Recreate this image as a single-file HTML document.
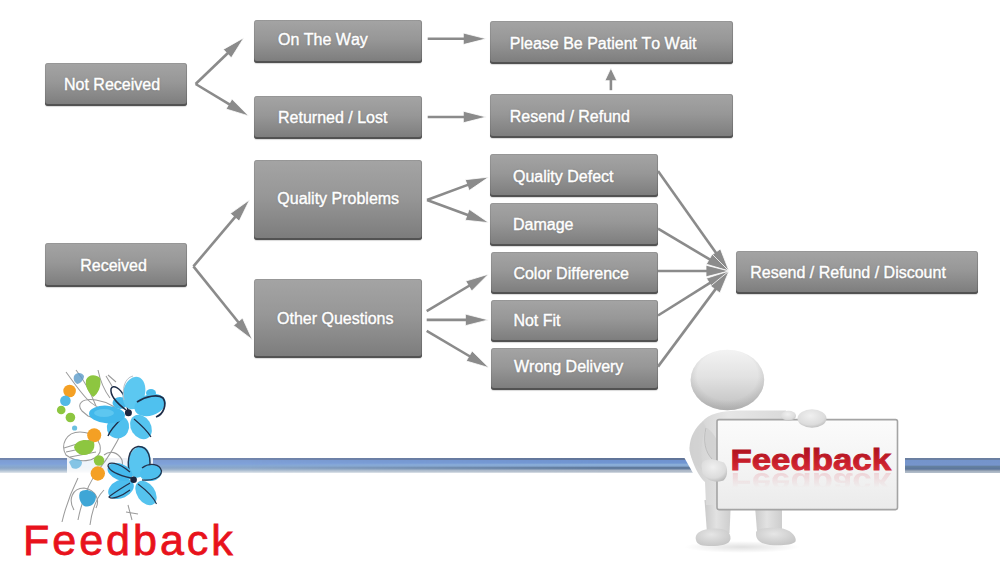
<!DOCTYPE html><html><head><meta charset="utf-8"><style>
html,body{margin:0;padding:0;background:#fff;}
body{width:1000px;height:570px;position:relative;overflow:hidden;font-family:"Liberation Sans",sans-serif;}
.b{position:absolute;border-radius:3px;background:linear-gradient(#a4a4a4 0%,#979797 45%,#838383 85%,#7b7b7b 100%);box-shadow:inset 0 -2px 0 #525252,inset -1px 0 0 rgba(0,0,0,0.14),inset 1px 0 0 rgba(0,0,0,0.08),inset 0 1px 0 rgba(0,0,0,0.08),0 1px 1px rgba(0,0,0,0.15);}
.t{position:absolute;color:#fff;font-size:16px;line-height:16px;white-space:nowrap;font-kerning:none;-webkit-text-stroke:0.4px #fff;text-shadow:0 0 2px rgba(60,60,60,0.35);}
svg{position:absolute;left:0;top:0;}
</style></head><body>

<div class="b" style="left:45.0px;top:62.5px;width:142.0px;height:43.0px"></div>
<div class="t" style="left:64.0px;top:76.7px">Not Received</div>
<div class="b" style="left:254.0px;top:20.3px;width:167.5px;height:42.5px"></div>
<div class="t" style="left:278.0px;top:32.1px">On The Way</div>
<div class="b" style="left:254.0px;top:96.0px;width:167.5px;height:42.6px"></div>
<div class="t" style="left:278.0px;top:110.0px">Returned / Lost</div>
<div class="b" style="left:254.0px;top:160.4px;width:167.5px;height:79.2px"></div>
<div class="t" style="left:277.3px;top:190.5px">Quality Problems</div>
<div class="b" style="left:44.5px;top:243.3px;width:142.5px;height:43.3px"></div>
<div class="t" style="left:80.2px;top:257.7px">Received</div>
<div class="b" style="left:254.0px;top:278.6px;width:167.5px;height:79.9px"></div>
<div class="t" style="left:277.0px;top:311.0px">Other Questions</div>
<div class="b" style="left:490.3px;top:20.9px;width:242.7px;height:43.6px"></div>
<div class="t" style="left:509.8px;top:36.1px">Please Be Patient To Wait</div>
<div class="b" style="left:490.3px;top:94.4px;width:242.7px;height:43.6px"></div>
<div class="t" style="left:509.8px;top:109.4px">Resend / Refund</div>
<div class="b" style="left:490.4px;top:154.0px;width:167.6px;height:43.4px"></div>
<div class="t" style="left:513.0px;top:168.9px">Quality Defect</div>
<div class="b" style="left:490.4px;top:203.0px;width:167.6px;height:43.0px"></div>
<div class="t" style="left:513.0px;top:216.5px">Damage</div>
<div class="b" style="left:490.5px;top:252.1px;width:167.9px;height:42.4px"></div>
<div class="t" style="left:513.4px;top:266.2px">Color Difference</div>
<div class="b" style="left:490.5px;top:299.7px;width:167.9px;height:42.7px"></div>
<div class="t" style="left:513.4px;top:312.5px">Not Fit</div>
<div class="b" style="left:490.5px;top:348.4px;width:167.9px;height:42.1px"></div>
<div class="t" style="left:514.0px;top:359.1px">Wrong Delivery</div>
<div class="b" style="left:736.0px;top:251.0px;width:242.0px;height:43.0px"></div>
<div class="t" style="left:750.2px;top:265.0px">Resend / Refund / Discount</div>
<svg width="1000" height="570" viewBox="0 0 1000 570">
<polygon points="243.9,37.7 231.3,57.8 223.3,49.4" fill="#8b8b8b" stroke="#fff" stroke-width="0.8" stroke-linejoin="miter"/><line x1="195.6" y1="84.0" x2="228.7" y2="52.2" stroke="#8b8b8b" stroke-width="2.6"/>
<polygon points="248.7,115.9 226.0,109.0 232.0,99.1" fill="#8b8b8b" stroke="#fff" stroke-width="0.8" stroke-linejoin="miter"/><line x1="195.6" y1="84.0" x2="230.7" y2="105.1" stroke="#8b8b8b" stroke-width="2.6"/>
<polygon points="249.6,199.8 239.2,221.1 230.3,213.6" fill="#8b8b8b" stroke="#fff" stroke-width="0.8" stroke-linejoin="miter"/><line x1="193.4" y1="266.4" x2="236.1" y2="215.8" stroke="#8b8b8b" stroke-width="2.6"/>
<polygon points="252.4,339.7 233.5,325.4 242.5,318.1" fill="#8b8b8b" stroke="#fff" stroke-width="0.8" stroke-linejoin="miter"/><line x1="193.4" y1="266.4" x2="239.2" y2="323.3" stroke="#8b8b8b" stroke-width="2.6"/>
<polygon points="486.3,38.8 463.3,44.6 463.3,33.0" fill="#8b8b8b" stroke="#fff" stroke-width="0.8" stroke-linejoin="miter"/><line x1="427.7" y1="38.8" x2="465.3" y2="38.8" stroke="#8b8b8b" stroke-width="2.6"/>
<polygon points="486.3,117.0 463.3,122.8 463.3,111.2" fill="#8b8b8b" stroke="#fff" stroke-width="0.8" stroke-linejoin="miter"/><line x1="427.7" y1="117.0" x2="465.3" y2="117.0" stroke="#8b8b8b" stroke-width="2.6"/>
<polygon points="610.9,68.1 616.9,80.7 604.9,80.7" fill="#8b8b8b" stroke="#fff" stroke-width="0.8" stroke-linejoin="miter"/><line x1="610.9" y1="90.2" x2="610.9" y2="78.7" stroke="#8b8b8b" stroke-width="2.6"/>
<polygon points="488.8,177.1 469.2,190.5 465.2,179.7" fill="#8b8b8b" stroke="#fff" stroke-width="0.8" stroke-linejoin="miter"/><line x1="427.0" y1="200.0" x2="469.1" y2="184.4" stroke="#8b8b8b" stroke-width="2.6"/>
<polygon points="488.8,222.7 465.2,220.2 469.2,209.3" fill="#8b8b8b" stroke="#fff" stroke-width="0.8" stroke-linejoin="miter"/><line x1="427.0" y1="200.0" x2="469.1" y2="215.5" stroke="#8b8b8b" stroke-width="2.6"/>
<polygon points="488.4,274.2 471.7,291.0 465.7,281.1" fill="#8b8b8b" stroke="#fff" stroke-width="0.8" stroke-linejoin="miter"/><line x1="426.7" y1="311.2" x2="470.4" y2="285.0" stroke="#8b8b8b" stroke-width="2.6"/>
<polygon points="488.4,319.9 465.4,325.7 465.4,314.1" fill="#8b8b8b" stroke="#fff" stroke-width="0.8" stroke-linejoin="miter"/><line x1="426.7" y1="319.9" x2="467.4" y2="319.9" stroke="#8b8b8b" stroke-width="2.6"/>
<polygon points="489.0,367.7 466.2,361.0 472.1,351.0" fill="#8b8b8b" stroke="#fff" stroke-width="0.8" stroke-linejoin="miter"/><line x1="426.7" y1="330.9" x2="470.9" y2="357.0" stroke="#8b8b8b" stroke-width="2.6"/>
<polygon points="729.0,271.0 711.0,255.6 720.4,248.9" fill="#8b8b8b" stroke="#fff" stroke-width="0.8" stroke-linejoin="miter"/><line x1="658.0" y1="171.0" x2="716.8" y2="253.9" stroke="#8b8b8b" stroke-width="2.6"/>
<polygon points="729.0,271.0 706.3,264.2 712.2,254.2" fill="#8b8b8b" stroke="#fff" stroke-width="0.8" stroke-linejoin="miter"/><line x1="658.0" y1="228.6" x2="711.0" y2="260.2" stroke="#8b8b8b" stroke-width="2.6"/>
<polygon points="729.0,271.0 706.0,276.8 706.0,265.2" fill="#8b8b8b" stroke="#fff" stroke-width="0.8" stroke-linejoin="miter"/><line x1="658.0" y1="271.0" x2="708.0" y2="271.0" stroke="#8b8b8b" stroke-width="2.6"/>
<polygon points="729.0,271.0 712.6,288.1 706.4,278.3" fill="#8b8b8b" stroke="#fff" stroke-width="0.8" stroke-linejoin="miter"/><line x1="658.0" y1="315.5" x2="711.2" y2="282.2" stroke="#8b8b8b" stroke-width="2.6"/>
<polygon points="729.0,271.0 719.9,292.9 710.6,286.0" fill="#8b8b8b" stroke="#fff" stroke-width="0.8" stroke-linejoin="miter"/><line x1="658.0" y1="366.6" x2="716.5" y2="287.9" stroke="#8b8b8b" stroke-width="2.6"/>
</svg>
<div style="position:absolute;left:0;top:457.5px;width:1000px;height:15.5px;background:linear-gradient(#7084ab 0px,#7286ae 1.5px,#7d9dd3 2.5px,#80a2da 6px,#86a8d4 7.5px,#8aa6c8 10px,#9db4cd 11.5px,#b7c6d6 13px,#d8e0e8 14.5px,#fff 15.5px);"></div>
<div style="position:absolute;left:0;top:457.5px;width:1000px;height:15.5px;background:linear-gradient(#5f7398 0px,#617599 1.5px,#6f93d0 2.5px,#7096d2 5px,#8aaed8 6.5px,#88aad4 8px,#5f7a9c 9.5px,#627c9e 11px,#aab5c5 12px,#b4bfcc 14px,#fff 15.5px);-webkit-mask-image:linear-gradient(to right,transparent 250px,#000 600px,#000 700px,transparent 905px);"></div>
<div style="position:absolute;left:0;top:457.5px;width:1000px;height:15.5px;background:linear-gradient(#6a7e9f 0px,#6b80a3 1.5px,#7494cb 2.5px,#7695cc 7px,#64809f 8.5px,#5c769c 11px,#8f9db0 12.5px,#a7b3c2 13.5px,#b5bfcb 15px,#fff 15.5px);-webkit-mask-image:linear-gradient(to right,transparent 700px,#000 905px);"></div>
<svg width="1000" height="570" viewBox="0 0 1000 570" style="position:absolute;left:0;top:0">
<defs>
<linearGradient id="head" x1="0" y1="0" x2="0" y2="1"><stop offset="0" stop-color="#f3f3f3"/><stop offset="0.45" stop-color="#e2e2e2"/><stop offset="0.85" stop-color="#c9c9c9"/><stop offset="1" stop-color="#b9b9b9"/></linearGradient><radialGradient id="heade" cx="0.5" cy="0.42" r="0.55"><stop offset="0.75" stop-color="#999" stop-opacity="0"/><stop offset="1" stop-color="#999" stop-opacity="0.35"/></radialGradient>
<linearGradient id="body" x1="0" y1="0" x2="1" y2="0"><stop offset="0" stop-color="#cfcfcf"/><stop offset="0.4" stop-color="#e6e6e6"/><stop offset="1" stop-color="#dadada"/></linearGradient>
<linearGradient id="leg" x1="0" y1="0" x2="1" y2="0"><stop offset="0" stop-color="#cacaca"/><stop offset="0.45" stop-color="#e2e2e2"/><stop offset="1" stop-color="#cdcdcd"/></linearGradient>
<radialGradient id="foot" cx="0.45" cy="0.35" r="0.7"><stop offset="0" stop-color="#e6e6e6"/><stop offset="1" stop-color="#c4c4c4"/></radialGradient>
<radialGradient id="hand" cx="0.45" cy="0.35" r="0.7"><stop offset="0" stop-color="#f0f0f0"/><stop offset="0.7" stop-color="#dcdcdc"/><stop offset="1" stop-color="#b8b8b8"/></radialGradient>
<linearGradient id="sign" x1="0" y1="0" x2="0" y2="1"><stop offset="0" stop-color="#fbfbfb"/><stop offset="0.5" stop-color="#f4f4f4"/><stop offset="1" stop-color="#ebebeb"/></linearGradient>
<linearGradient id="red" x1="0" y1="0" x2="0" y2="1"><stop offset="0" stop-color="#a50e1a"/><stop offset="0.6" stop-color="#c81f2b"/><stop offset="1" stop-color="#de3440"/></linearGradient>
<linearGradient id="rmg" x1="0" y1="0" x2="0" y2="1"><stop offset="0" stop-color="#fff" stop-opacity="0.9"/><stop offset="0.7" stop-color="#fff" stop-opacity="0"/></linearGradient>
<radialGradient id="shadow" cx="0.5" cy="0.5" r="0.5"><stop offset="0" stop-color="#000" stop-opacity="0.12"/><stop offset="1" stop-color="#000" stop-opacity="0"/></radialGradient>
</defs>
<!-- figure white bg -->
<path d="M674.4 440 L905 440 L905 480 L696.9 480 Z" fill="#fff"/>
<!-- shadow -->
<ellipse cx="742" cy="547" rx="58" ry="6" fill="url(#shadow)"/>
<!-- legs -->
<path d="M704.5 500 L731 500 L729.5 533 L707 533 Z" fill="url(#leg)"/>
<path d="M754.5 500 L782 500 L782 531 L757 531 Z" fill="url(#leg)"/>
<path d="M696 540 C694 532 704 528.5 716 528.5 C726 528.5 731 532 730.5 539 C729.5 545 720 546 712 546 C702 546 697 545 696 540 Z" fill="url(#foot)"/>
<path d="M756 533 C756 528 768 527.5 780 528 C792 530 797 537 795.5 541.5 C792.5 545.5 780 545.5 770 545 C760 544 755.5 539 756 533 Z" fill="url(#foot)"/>
<!-- body -->
<path d="M702 422 C708 414 722 410.5 740 410.5 L786 410.5 L786 470 L760 505 L706 505 L705 482 C698 476 690 458 689.5 448 C690 436 696 427 702 422 Z" fill="url(#body)"/>
<!-- arm shading -->
<path d="M703 421 C697 428 690 440 689.6 451 C692 462 698 468 704 470 C700 460 700 440 706 428 Z" fill="#d2d2d2" opacity="0.7"/>
<path d="M707 428 C704 440 706 452 712 459 L717 462 L717 440 C714 434 710 430 707 428 Z" fill="#cfcfcf" opacity="0.8"/>
<path d="M706 428 C703 440 705 452 712 459" fill="none" stroke="#bdbdbd" stroke-width="1"/>
<!-- head -->
<ellipse cx="727.4" cy="380" rx="36.8" ry="30.3" fill="url(#head)"/><ellipse cx="727.4" cy="380" rx="36.8" ry="30.3" fill="url(#heade)"/>
<!-- sign -->
<rect x="717" y="419.6" width="180.5" height="90" rx="2" fill="url(#sign)" stroke="#a4a4a4" stroke-width="1.6"/>
<!-- left hand (fist) -->
<path d="M701.5 466 C701 460 708 458.5 716 460 L724 462.5 C728 467 728.5 476 723.5 480.5 C716 483.5 706 480.5 702.5 473 Z" fill="url(#hand)"/>
<!-- right hand -->
<ellipse cx="788.5" cy="415.8" rx="7.5" ry="5" fill="url(#hand)"/>
<ellipse cx="812" cy="418.5" rx="14.5" ry="9.3" fill="url(#hand)"/>
<!-- sign text -->
<text x="730.5" y="469.6" font-family="Liberation Sans" font-weight="bold" font-size="30" fill="url(#red)" stroke="url(#red)" stroke-width="0.9" textLength="160.5" lengthAdjust="spacingAndGlyphs">Feedback</text>
<mask id="rm"><rect x="700" y="470" width="200" height="25" fill="url(#rmg)"/></mask>
<g mask="url(#rm)"><g transform="translate(0,943) scale(1,-1)"><text x="730.5" y="469.6" font-family="Liberation Sans" font-weight="bold" font-size="30" fill="#e05060" opacity="0.25" textLength="160.5" lengthAdjust="spacingAndGlyphs">Feedback</text></g></g>
</svg>
<div style="position:absolute;left:23px;top:515px;color:#e8121c;font-size:43px;line-height:50px;letter-spacing:3px;white-space:nowrap;-webkit-text-stroke:0.8px #e8121c">Feedback</div>

<svg width="1000" height="570" viewBox="0 0 1000 570" style="position:absolute;left:0;top:0">
<!-- white patch behind flower parts over band -->
<rect x="67" y="456" width="86" height="18" fill="#fff" opacity="0.88"/>
<path d="M64 455 C60 445 66 432 80 432 C94 432 102 442 100 452 C96 462 78 464 64 455 Z" fill="#fff"/>
<g fill="none" stroke="#8a8a8a" stroke-width="1.05" opacity="0.85">
<path d="M66 372 C72 380 80 392 88 400 C96 408 104 410 112 414"/>
<path d="M76 370 C84 380 92 396 96 406"/>
<path d="M82 411 C76 404 82 398 96 400 C108 402 118 408 120 414 C116 420 98 420 88 416 Z"/>
<path d="M66 455 C60 445 66 432 80 432 C94 432 102 442 100 452 C96 462 78 464 66 455 Z"/>
<path d="M64 448 L90 440 M66 452 L94 446 M70 457 L96 452"/>
<path d="M74 510 C68 500 72 488 84 488 C96 490 100 500 96 508"/>
<path d="M78 520 C82 500 90 480 100 468 C108 458 116 444 122 432"/>
<path d="M62 522 C66 505 72 490 78 478"/>
<path d="M90 525 C92 510 96 498 104 490"/>
<path d="M98 370 C100 380 104 390 110 398"/>
<path d="M106 376 L112 386 M108 375 L116 382"/>
<path d="M104 455 C110 450 118 452 122 460 C124 468 118 474 110 472"/>
<path d="M128 505 L132 520 M126 512 L138 514"/>
</g>
<!-- dots -->
<circle cx="69.6" cy="391" r="6.3" fill="#f4a024"/>
<circle cx="65.4" cy="400.8" r="5.3" fill="#52b9e6"/>
<circle cx="61.2" cy="410" r="4.3" fill="#8dc640"/>
<circle cx="70.4" cy="417.5" r="4.8" fill="#8dc640"/>
<circle cx="74.6" cy="428" r="2.6" fill="#6bc0e0"/>
<circle cx="94.2" cy="435.2" r="7" fill="#f4a024"/>
<circle cx="99" cy="460.5" r="5.2" fill="#8dc640"/>
<circle cx="97.8" cy="473.5" r="7.2" fill="#f4a024"/>
<path d="M86 380 C88 374 96 374 100 378 C102 386 98 394 93 397 C88 392 85 386 86 380 Z" fill="#8dc640"/>
<path d="M74 376 C76 372 82 372 84 376 C84 380 80 384 77 384 C74 382 73 379 74 376 Z" fill="#5a9ac8" opacity="0.8"/>
<path d="M74 447 C76 440 86 438 94 442 C96 450 90 456 82 455 C78 454 75 451 74 447 Z" fill="#8dc640"/>
<path d="M80 492 C84 488 94 490 96 496 C96 504 90 508 84 506 C80 503 78 497 80 492 Z" fill="#3fa6d6"/>
<path d="M69 462 C72 458 80 458 82 462 C82 468 76 470 72 468 Z" fill="#6ab8e0" opacity="0.8"/>
<!-- flower 1 -->
<g>
<ellipse cx="120" cy="403" rx="7.5" ry="6" fill="#45b8ea"/>
<path d="M126 410 C118 404 110 396 111 389 C113 384 120 388 124 396 C126 401 127 406 128 410" fill="none" stroke="#1e2d48" stroke-width="1.5"/>
<ellipse cx="134" cy="393" rx="11" ry="16.5" transform="rotate(14 134 393)" fill="#5cc8f1"/>
<path d="M124 400 C122 390 124 378 133 376" fill="none" stroke="#b8c0c8" stroke-width="1"/>
<ellipse cx="151" cy="393" rx="5" ry="4" fill="#48bcec"/>
<ellipse cx="150" cy="405" rx="16" ry="10.5" transform="rotate(-18 150 405)" fill="#4fc1ef"/>
<path d="M137 402 C146 396 158 394 163 398 C167 404 164 414 156 417" fill="none" stroke="#1e2d48" stroke-width="1.7"/>
<ellipse cx="141" cy="427" rx="10" ry="13" transform="rotate(-32 141 427)" fill="#55c4ef"/>
<path d="M134 419 C140 424 148 432 151 437" fill="none" stroke="#1e2d48" stroke-width="1.1"/>
<ellipse cx="118" cy="427" rx="11" ry="11.5" transform="rotate(30 118 427)" fill="#4fc0ee"/>
<path d="M122 418 C116 424 110 430 108 436" fill="none" stroke="#1e2d48" stroke-width="1.4"/>
<ellipse cx="107" cy="414.5" rx="18" ry="8.8" transform="rotate(4 107 414.5)" fill="#41b8eb"/>
<ellipse cx="104" cy="413" rx="10" ry="4" fill="#6fd0f4" opacity="0.6"/>
<circle cx="128.4" cy="412.7" r="3.5" fill="#1b2740"/>
</g>
<!-- flower 2 -->
<g>
<ellipse cx="139" cy="462" rx="11" ry="16" transform="rotate(14 139 462)" fill="#58c5f0"/>
<path d="M131 476 C126 464 128 448 138 446.5 C148 446 153 458 148 474" fill="none" stroke="#23324c" stroke-width="1.4"/>
<ellipse cx="151" cy="473" rx="11" ry="8" transform="rotate(-10 151 473)" fill="#4dbfee"/>
<path d="M142 468 C150 462 160 464 161.5 471 C161 478 152 481 142 480" fill="none" stroke="#23324c" stroke-width="1.3"/>
<ellipse cx="146" cy="493" rx="9" ry="13.5" transform="rotate(-35 146 493)" fill="#55c3ee"/>
<path d="M138 484 C146 490 154 498 156.5 504" fill="none" stroke="#23324c" stroke-width="1.1"/>
<ellipse cx="121" cy="489" rx="13.5" ry="9" transform="rotate(-25 121 489)" fill="#4cbdee"/>
<path d="M130 483 C122 488 112 494 109 497 C112 500 122 496 130 490" fill="none" stroke="#23324c" stroke-width="1.2"/>
<ellipse cx="120" cy="472" rx="13" ry="8" transform="rotate(22 120 472)" fill="#45b9ec"/>
<path d="M131 478 C122 476 110 472 108 466 C108 461 118 462 130 472" fill="none" stroke="#23324c" stroke-width="1.3"/>
<circle cx="133.6" cy="479.7" r="3.3" fill="#1b2740"/>
</g>
</svg>

</body></html>
